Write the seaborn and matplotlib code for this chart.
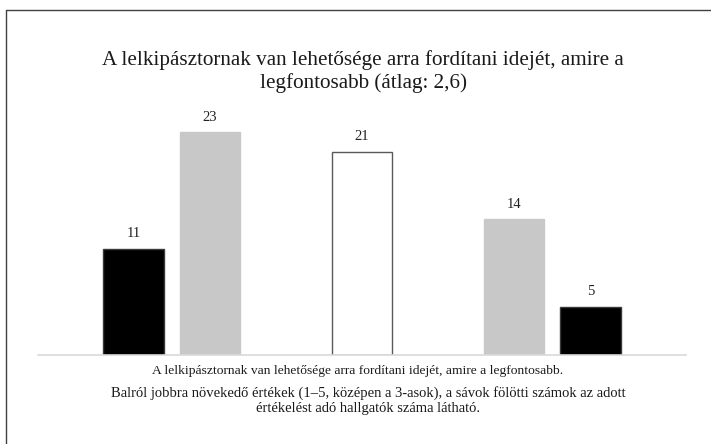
import matplotlib
matplotlib.use("Agg")
import matplotlib.pyplot as plt
from matplotlib.lines import Line2D
import seaborn as sns
import pandas as pd
import numpy as np

# Data
slots = ["1", "2", "gap_a", "3", "gap_b", "4", "5"]
values = [11, 23, np.nan, 21, np.nan, 14, 5]
fill_colors = ["#000000", "#c8c8c8", "#ffffff", "#ffffff", "#ffffff", "#c8c8c8", "#000000"]
edge_colors = ["#3a3a3a", "#c8c8c8", "#ffffff", "#595959", "#ffffff", "#c8c8c8", "#3a3a3a"]
title_text = "A lelkipásztornak van lehetősége arra fordítani idejét, amire a\nlegfontosabb (átlag: 2,6)"
category_label = "A lelkipásztornak van lehetősége arra fordítani idejét, amire a legfontosabb."
note_text = ("Balról jobbra növekedő értékek (1–5, középen a 3-asok), a sávok fölötti számok az adott\n"
             "értékelést adó hallgatók száma látható.")

sns.set_theme(style="white")
plt.rcParams["font.family"] = ["Liberation Serif", "DejaVu Serif"]

df = pd.DataFrame({"slot": slots, "value": values})

fig = plt.figure(figsize=(7.11, 4.44), dpi=100)
ax = fig.add_axes([38.3 / 711, 1 - 355 / 444, (685.7 - 38.3) / 711, (355 - 113) / 444])

palette = dict(zip(slots, fill_colors))
sns.barplot(data=df, x="slot", y="value", hue="slot", order=slots, hue_order=slots,
            palette=palette, legend=False, width=0.79, ax=ax, saturation=1)

for p in ax.patches:
    h = p.get_height()
    if not np.isfinite(h) or h == 0:
        continue
    cx = p.get_x() + p.get_width() / 2
    idx = int(round(cx))
    p.set_edgecolor(edge_colors[idx])
    p.set_linewidth(1.0)
    ax.annotate(f"{int(h)}", (cx, h), xytext=(0, 6), textcoords="offset points",
                ha="center", va="bottom", fontsize=10.5, color="#222222")

ax.set_xlim(-1.25, 7.25)
ax.set_ylim(0, 25)
ax.set_xlabel("")
ax.set_ylabel("")
ax.set_xticks([])
ax.set_yticks([])
for s in ["top", "right", "left"]:
    ax.spines[s].set_visible(False)
ax.spines["bottom"].set_color("#d9d9d9")
ax.spines["bottom"].set_linewidth(1.2)

# titles and texts
fig.text(363 / 711, 1 - 71.5 / 444, title_text, ha="center", va="center", fontsize=15.2,
         linespacing=1.25, color="#1a1a1a")
fig.text(358 / 711, 1 - 371 / 444, category_label, ha="center", va="center", fontsize=9.7,
         color="#1a1a1a")
fig.text(368 / 711, 1 - 401 / 444, note_text, ha="center", va="center", fontsize=10.5,
         linespacing=1.2, color="#1a1a1a")

# chart border (top and left visible)
fig.add_artist(Line2D([6 / 711, 6 / 711], [0, 1 - 10 / 444], transform=fig.transFigure,
                      color="#404040", linewidth=1.0))
fig.add_artist(Line2D([6 / 711, 1], [1 - 10 / 444, 1 - 10 / 444], transform=fig.transFigure,
                      color="#404040", linewidth=1.0))

fig.savefig("out.png", dpi=100)
